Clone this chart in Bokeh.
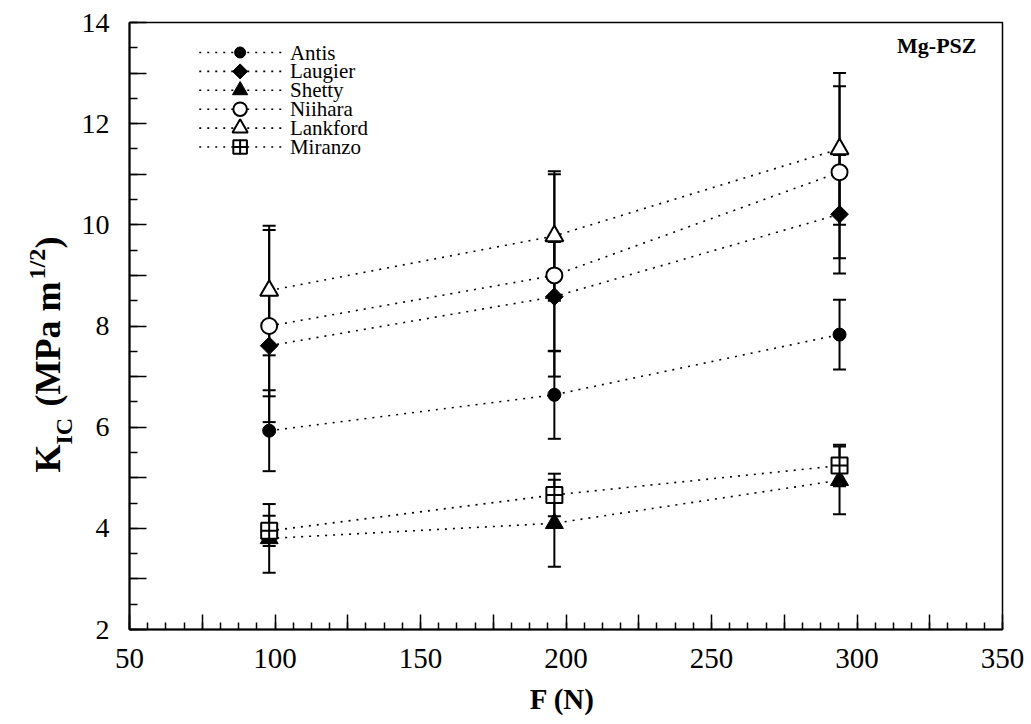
import math
from bokeh.plotting import figure
from bokeh.layouts import row
from bokeh.models import (Range1d, FixedTicker, ColumnDataSource, Whisker, TeeHead,
                          Label)
from bokeh.core.properties import value
from bokeh.embed import file_html
from bokeh.resources import INLINE

# ---------------- data ----------------
force = [98, 196, 294]
series_names = ["Antis", "Laugier", "Shetty", "Niihara", "Lankford", "Miranzo"]
antis = [5.93, 6.64, 7.83]
antis_err = [0.80, 0.87, 0.69]
laugier = [7.61, 8.58, 10.21]
laugier_err = [1.00, 1.08, 1.17]
shetty = [3.80, 4.10, 4.95]
shetty_err = [0.68, 0.86, 0.67]
niihara = [8.00, 9.00, 11.04]
niihara_err = [1.90, 2.00, 1.70]
lankford = [8.70, 9.78, 11.50]
lankford_err = [1.28, 1.28, 1.50]
miranzo = [3.95, 4.66, 5.24]
miranzo_err = [0.30, 0.42, 0.41]
x_ticks = [50, 100, 150, 200, 250, 300, 350]
y_ticks = [2, 4, 6, 8, 10, 12, 14]

SERIF = "Liberation Serif"
W, H = 1026, 722
LW = 78                                # width of the y-label strip
FL, FR, FT, FB = 126, 1002, 22, 629    # frame box in page px

p = figure(width=W - LW, height=H, output_backend="svg", toolbar_location=None,
           x_range=Range1d(50, 350), y_range=Range1d(2, 14),
           min_border_left=FL - LW, min_border_right=W - FR,
           min_border_top=FT, min_border_bottom=H - FB)
p.grid.visible = False
p.background_fill_color = "white"
p.border_fill_color = "white"
p.outline_line_color = "black"
p.outline_line_width = 1.5

# axes
xa = p.xaxis[0]
xt_major = [50 + 25 * i for i in range(13)]
xt_minor = [50 + 6.25 * i for i in range(49)]
xa.ticker = FixedTicker(ticks=xt_major, minor_ticks=xt_minor)
xa.major_label_overrides = {t: ("" if t not in x_ticks else str(t)) for t in xt_major}
xa.major_tick_in = 15
xa.major_tick_out = 0
xa.minor_tick_in = 7
xa.minor_tick_out = 0
xa.major_tick_line_width = 1.5
xa.minor_tick_line_width = 1.5
xa.axis_line_width = 2
xa.major_label_standoff = 19
xa.major_label_text_font = SERIF
xa.major_label_text_font_size = "29px"
xa.major_label_text_color = "black"
xa.axis_label = "F  (N)"
xa.axis_label_text_font = SERIF
xa.axis_label_text_font_style = "bold"
xa.axis_label_text_font_size = "29px"
xa.axis_label_standoff = 12
xa.axis_label_text_color = "black"

ya = p.yaxis[0]
yt_major = list(range(2, 15))
yt_minor = [2 + 0.5 * i for i in range(25)]
ya.ticker = FixedTicker(ticks=yt_major, minor_ticks=yt_minor)
ya.major_label_overrides = {t: ("" if t not in y_ticks else str(t)) for t in yt_major}
ya.major_tick_in = 17
ya.major_tick_out = 0
ya.minor_tick_in = 8
ya.minor_tick_out = 0
ya.major_tick_line_width = 1.5
ya.minor_tick_line_width = 1.5
ya.axis_line_width = 2
ya.major_label_standoff = 20
ya.major_label_text_font = SERIF
ya.major_label_text_font_size = "28px"
ya.major_label_text_color = "black"
ya.axis_label = None

# series
specs = [
    ("Antis", antis, antis_err, dict(marker="circle", size=13, fill_color="black", line_color="black")),
    ("Laugier", laugier, laugier_err, dict(marker="square", size=12.5, angle=math.pi / 4, fill_color="black", line_color="black")),
    ("Shetty", shetty, shetty_err, dict(marker="triangle", size=18, fill_color="black", line_color="black")),
    ("Niihara", niihara, niihara_err, dict(marker="circle", size=16, fill_color="white", line_color="black", line_width=2)),
    ("Lankford", lankford, lankford_err, dict(marker="triangle", size=18, fill_color="white", line_color="black", line_width=2)),
    ("Miranzo", miranzo, miranzo_err, dict(marker="square_cross", size=16, fill_color="white", line_color="black", line_width=2)),
]

for name, ys, errs, mk in specs:
    src = ColumnDataSource(dict(x=force, y=ys,
                                upper=[v + e for v, e in zip(ys, errs)],
                                lower=[v - e for v, e in zip(ys, errs)]))
    p.line("x", "y", source=src, line_color="black", line_width=1.6, line_dash="2 6")
    w = Whisker(source=src, base="x", upper="upper", lower="lower",
                line_color="black", line_width=2,
                upper_head=TeeHead(size=13, line_width=2, line_color="black"),
                lower_head=TeeHead(size=13, line_width=2, line_color="black"))
    p.add_layout(w)

for name, ys, errs, mk in specs:
    src = ColumnDataSource(dict(x=force, y=ys))
    p.scatter("x", "y", source=src, **mk)


# ---- key (legend) placed in the upper-left of the frame ----
def xd(px):
    return 50 + (px - FL) / (FR - FL) * 300


def yd(py):
    return 14 - (py - FT) / (FB - FT) * 12


for i, (name, ys, errs, mk) in enumerate(specs):
    cy = yd(52 + 18.9 * i)
    p.line([xd(196), xd(279)], [cy, cy], line_color="black", line_width=1.6, line_dash="2 6")
    kmk = dict(mk)
    kmk["size"] = mk["size"] * 0.85
    p.scatter([xd(237)], [cy], **kmk)
    p.text([xd(287)], [cy], text=[name], text_font=value(SERIF), text_font_size="21px",
           text_align="left", text_baseline="middle", text_color="black")

p.add_layout(Label(x=976 - LW, y=45, x_units="canvas", y_units="canvas", text="Mg-PSZ",
                   text_font=SERIF, text_font_style="bold", text_font_size="22px",
                   text_align="right", text_baseline="middle", text_color="black"))

# ---- rotated y-axis title strip (with subscript and superscript) ----
lab = figure(width=LW, height=H, output_backend="svg", toolbar_location=None,
             x_range=Range1d(0, LW), y_range=p.y_range, title=None,
             x_axis_type=None, y_axis_type=None,
             frame_width=LW, frame_height=FB - FT,
             min_border_left=0, min_border_right=0,
             min_border_top=FT, min_border_bottom=H - FB)
lab.grid.visible = False
lab.outline_line_color = None
lab.background_fill_color = "white"
lab.border_fill_color = "white"

# (text, centre x px, start y px, size)
ylab = [
    ("K", 47, 472, "36px"),
    ("IC", 63, 444, "24px"),
    ("(MPa m", 47, 406, "36px"),
    ("1/2", 36, 279, "24px"),
    (")", 47, 248, "36px"),
]
for txt, bx, by, fs in ylab:
    lab.text([bx], [yd(by)], text=[txt], angle=math.pi / 2, text_font=value(SERIF),
             text_font_style="bold", text_font_size=fs, text_align="left",
             text_baseline="middle", text_color="black")

open("out.html", "w").write(file_html(row(lab, p), INLINE))
